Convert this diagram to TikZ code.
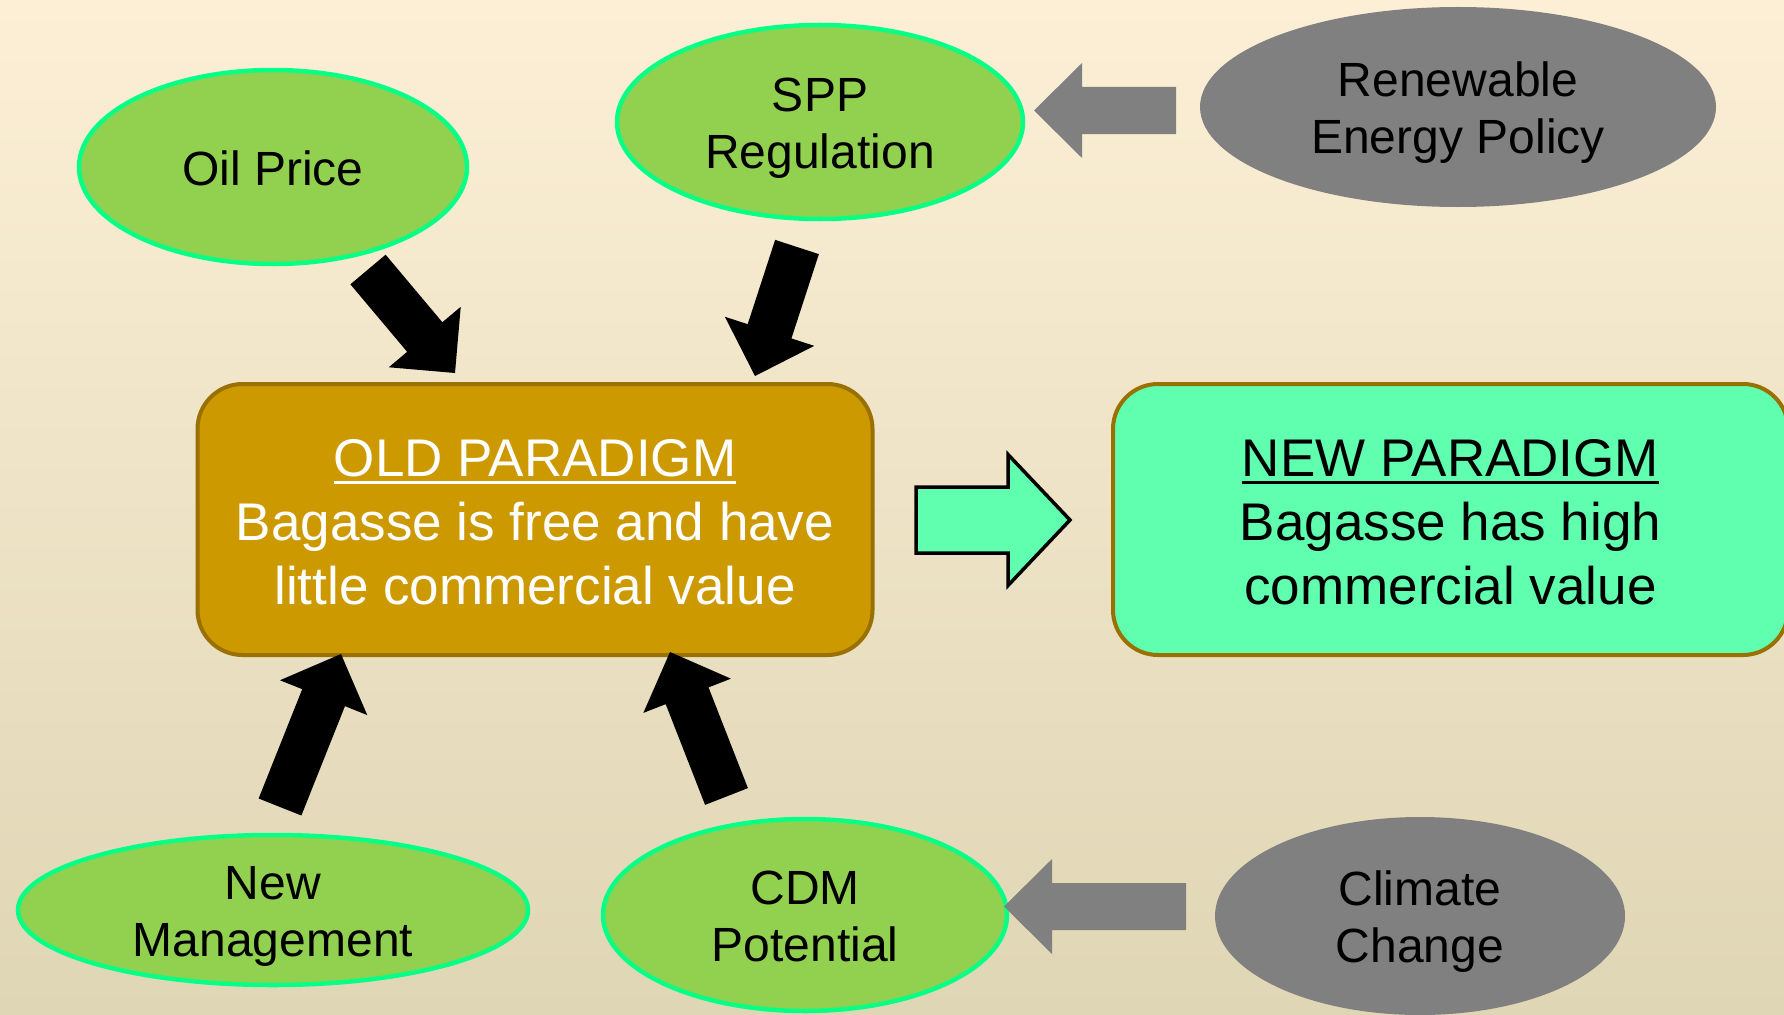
\documentclass[tikz,border=0pt]{standalone}
\usepackage{fontspec}
\setmainfont{Liberation Sans}
\usetikzlibrary{shapes.geometric,calc}

\definecolor{bgtop}{HTML}{FCEFD6}
\definecolor{bgmid}{HTML}{F3EBD5}
\definecolor{bgbot}{HTML}{DFD6B5}
\definecolor{leaf}{HTML}{92D050}
\definecolor{leafrim}{HTML}{08FF86}
\definecolor{stone}{HTML}{808080}
\definecolor{ochre}{HTML}{CC9900}
\definecolor{ochrerim}{HTML}{9A7000}
\definecolor{mint}{HTML}{5FFFAF}

% text underlined with a rule of fixed thickness
\newcommand{\ulbar}[1]{\leavevmode\vtop{\hbox{#1}\kern4pt\hrule height 3pt}}
% line struts that keep multi-line labels centred by their line boxes
\newcommand{\ovalstrut}{\rule[-10pt]{0pt}{56pt}}
\newcommand{\boxstrut}{\rule{0pt}{43pt}}

% block arrow: style, tail, tip, shaft half width, head half width, head length
\newcommand{\blockarrow}[6]{%
  \path[#1]
    ($(#2)!#4!90:(#3)$)
    -- ($(#3)!#6!(#2)!#4!90:(#3)$)
    -- ($(#3)!#6!(#2)!#5!90:(#3)$)
    -- (#3)
    -- ($(#3)!#6!(#2)!#5!-90:(#3)$)
    -- ($(#3)!#6!(#2)!#4!-90:(#3)$)
    -- ($(#2)!#4!-90:(#3)$)
    -- cycle;}

\tikzset{
  factor/.style={ellipse, fill=leaf, draw=leafrim, line width=4.5pt, inner sep=0pt,
    align=center, font=\fontsize{48}{57}\selectfont},
  driver/.style={ellipse, fill=stone, inner sep=0pt,
    align=center, font=\fontsize{48}{57}\selectfont},
  paradigm/.style={rectangle, rounded corners=45pt, draw=ochrerim, line width=4pt,
    minimum width=675pt, minimum height=271pt, align=center,
    font=\fontsize{53}{64}\selectfont},
  pusharrow/.style={fill=black},
  feedarrow/.style={fill=stone},
  shiftarrow/.style={fill=mint, draw=black, line width=3.5pt, line join=miter},
}

\begin{document}
\begin{tikzpicture}[x=1pt, y=-1pt]
  \useasboundingbox (0,0) rectangle (1784,1014);
  \clip (0,0) rectangle (1784,1014);
  \shade[top color=bgtop, middle color=bgmid, bottom color=bgbot] (0,0) rectangle (1784,1014);

  % influencing factors
  \node[factor, minimum width=388pt, minimum height=194pt] (oil) at (273,167)
    {\ovalstrut Oil Price\ovalstrut};
  \node[factor, minimum width=406pt, minimum height=194pt] (spp) at (820,122)
    {\ovalstrut SPP\\Regulation\ovalstrut};
  \node[factor, inner ysep=-10pt, minimum width=510pt, minimum height=150pt] (mgmt) at (273,910)
    {\ovalstrut New\\Management\ovalstrut};
  \node[factor, minimum width=404pt, minimum height=192pt] (cdm) at (805,915)
    {\ovalstrut CDM\\Potential\ovalstrut};

  % external drivers
  \node[driver, minimum width=516pt, minimum height=200pt] (rep) at (1458,107)
    {\ovalstrut Renewable\\Energy Policy\ovalstrut};
  \node[driver, minimum width=410pt, minimum height=198pt] (clim) at (1420,916)
    {\ovalstrut Climate\\Change\ovalstrut};

  % paradigms
  \node[paradigm, fill=ochre, text=white] (old) at (535,519.5)
    {\boxstrut\ulbar{OLD PARADIGM}\\Bagasse is free and have\\little commercial value};
  \node[paradigm, fill=mint, text=black] (new) at (1450.5,519.5)
    {\boxstrut\ulbar{NEW PARADIGM}\\Bagasse has high\\commercial value};

  % arrow ends
  \coordinate (oilT) at (368,269.5);   \coordinate (oilH) at (455,373);
  \coordinate (sppT) at (797,247);     \coordinate (sppH) at (755,376);
  \coordinate (mgmtT) at (280,807);    \coordinate (mgmtH) at (341,654);
  \coordinate (cdmT) at (726.5,796.5); \coordinate (cdmH) at (670,652);
  \coordinate (repT) at (1176,110.5);  \coordinate (repH) at (1034,110.5);
  \coordinate (climT) at (1186,906.5); \coordinate (climH) at (1004,906.5);
  \coordinate (shiftT) at (916,520);   \coordinate (shiftH) at (1070,520);

  % factors acting on the old paradigm
  \blockarrow{pusharrow}{oilT}{oilH}{23pt}{47pt}{47pt}
  \blockarrow{pusharrow}{sppT}{sppH}{23pt}{47pt}{47pt}
  \blockarrow{pusharrow}{mgmtT}{mgmtH}{23pt}{47pt}{47pt}
  \blockarrow{pusharrow}{cdmT}{cdmH}{23pt}{47pt}{47pt}

  % drivers feeding the factors
  \blockarrow{feedarrow}{repT}{repH}{23.5pt}{47.5pt}{48pt}
  \blockarrow{feedarrow}{climT}{climH}{23.5pt}{47.5pt}{48pt}

  % shift from old to new paradigm
  \blockarrow{shiftarrow}{shiftT}{shiftH}{33pt}{65.5pt}{62pt}
\end{tikzpicture}
\end{document}
